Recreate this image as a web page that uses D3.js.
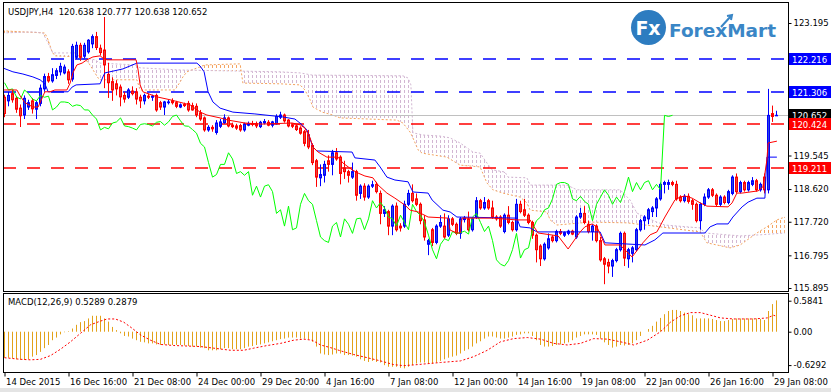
<!DOCTYPE html>
<html>
<head>
<meta charset="utf-8">
<script src="https://cdn.jsdelivr.net/npm/d3@7"></script>
<style>
  body { margin: 0; background: #fff; }
  svg text { font-family: "DejaVu Sans", sans-serif; font-size: 8.5px; fill: #000; }
</style>
</head>
<body>
<svg id="chart" width="831" height="392"></svg>
<script>
// Data -------------------------------------------------
// H4 bars from 14 Dec 2015 00:00, [open, high, low, close]
const ohlc = [
  [121.15,121.22,120.60,120.70],[121.05,121.30,120.90,121.20],[121.25,121.35,121.00,121.08],[121.12,121.18,120.72,120.82],[120.85,120.95,120.33,120.64],
  [120.66,121.20,120.55,121.12],[120.88,121.08,120.80,121.00],[121.05,121.13,120.70,120.83],[120.82,121.05,120.55,121.00],[120.98,121.50,120.90,121.40], // 0-9
  [121.38,121.80,121.30,121.72],[121.72,121.82,121.55,121.60],[121.60,121.95,121.55,121.77],[121.75,121.95,121.65,121.88],[121.85,122.10,121.75,122.00],
  [121.82,122.05,121.78,121.98],[121.85,121.92,121.52,121.63],[121.65,122.62,121.58,122.55],[122.25,122.68,122.20,122.58],[122.58,122.65,122.15,122.25], // 10-19
  [122.28,122.65,122.22,122.58],[122.40,122.75,122.35,122.72],[122.62,122.88,122.50,122.82],[122.82,122.95,122.45,122.52],[122.50,122.60,122.30,122.38],
  [122.45,123.36,121.40,122.04],[121.78,122.10,121.13,121.55],[121.58,121.70,121.05,121.35],[121.52,121.62,121.20,121.38],[121.43,121.50,120.90,121.16], // 20-29
  [121.20,121.30,121.00,121.10],[121.15,121.40,121.10,121.35],[121.32,121.45,121.20,121.25],[121.30,121.40,120.95,121.10],[121.15,121.22,120.85,121.05],
  [121.05,121.25,120.95,121.20],[121.18,121.25,121.10,121.15],[121.15,121.22,121.05,121.18],[121.20,121.25,120.75,120.80],[121.00,121.05,120.80,120.88], // 30-39
  [120.88,121.05,120.66,121.02],[121.00,121.08,120.95,121.02],[121.05,121.12,120.95,121.00],[121.00,121.05,120.85,120.90],[120.88,120.98,120.85,120.94],
  [120.95,121.00,120.88,120.92],[120.98,121.05,120.75,120.80],[120.92,121.00,120.78,120.80],[120.90,120.98,120.60,120.66],[120.72,120.80,120.50,120.55], // 40-49
  [120.58,120.62,120.20,120.25],[120.25,120.38,120.20,120.32],[120.32,120.38,120.20,120.28],[120.18,120.52,120.12,120.44],[120.35,120.55,120.30,120.47],
  [120.45,120.68,120.42,120.58],[120.58,120.62,120.32,120.36],[120.38,120.45,120.30,120.34],[120.36,120.42,120.25,120.30],[120.37,120.42,120.20,120.25], // 50-59
  [120.25,120.45,120.20,120.40],[120.38,120.48,120.35,120.42],[120.42,120.50,120.35,120.40],[120.42,120.48,120.30,120.36],[120.34,120.50,120.30,120.46],
  [120.44,120.55,120.40,120.48],[120.46,120.52,120.35,120.38],[120.38,120.50,120.32,120.47],[120.42,120.68,120.40,120.62],[120.60,120.75,120.55,120.66], // 60-69
  [120.66,120.70,120.45,120.50],[120.52,120.55,120.32,120.36],[120.38,120.42,120.30,120.35],[120.36,120.40,120.22,120.26],[120.30,120.35,120.12,120.16],
  [120.20,120.25,119.80,119.88],[120.12,120.25,119.72,119.78],[119.82,119.88,119.28,119.35],[119.40,119.45,118.68,118.95],[118.93,119.30,118.70,119.02], // 70-79
  [119.00,119.40,118.80,119.30],[119.40,119.55,119.10,119.30],[119.30,119.70,119.00,119.62],[119.62,119.75,119.40,119.45],[119.50,119.55,118.75,119.05],
  [119.20,119.40,118.90,119.10],[119.10,119.15,118.80,119.00],[118.95,119.35,118.90,119.10],[119.10,119.15,118.30,118.45],[118.50,118.75,118.35,118.70], // 80-89
  [118.70,118.78,118.30,118.40],[118.40,118.75,118.35,118.70],[118.70,118.85,118.65,118.74],[118.75,118.82,118.50,118.55],[118.50,118.58,117.65,117.95],
  [117.95,118.15,117.85,118.05],[118.00,118.05,117.35,117.60],[117.60,118.20,117.35,118.15],[118.15,118.25,117.45,117.50],[117.60,117.68,117.45,117.55], // 90-99
  [117.60,118.30,117.55,118.20],[118.20,118.60,118.15,118.50],[118.50,118.75,118.25,118.30],[118.35,118.50,118.15,118.20],[118.20,118.25,117.65,117.75],
  [117.77,117.90,117.20,117.30],[117.10,117.25,116.80,117.20],[117.50,117.55,117.05,117.15],[117.15,117.65,117.10,117.60],[117.60,117.90,117.55,117.70], // 100-109
  [117.60,117.95,117.25,117.30],[117.35,117.90,117.30,117.80],[117.80,117.85,117.60,117.65],[117.65,117.70,117.35,117.40],[117.40,117.85,117.25,117.80],
  [117.78,117.88,117.70,117.82],[117.80,118.00,117.45,117.50],[117.50,117.85,117.45,117.80],[117.85,118.40,117.80,118.30],[118.30,118.35,118.05,118.10], // 110-119
  [118.10,118.40,118.05,118.25],[118.30,118.35,118.05,118.10],[118.10,118.30,117.80,117.85],[117.85,117.90,117.75,117.80],[117.85,117.90,117.55,117.60],
  [117.45,117.95,117.40,117.90],[117.90,118.15,117.65,117.70],[117.70,117.75,117.45,117.50],[117.50,118.35,117.45,118.20],[118.20,118.30,117.95,118.00], // 120-129
  [118.05,118.35,117.85,117.90],[117.90,117.95,117.65,117.70],[117.70,117.75,117.25,117.35],[117.35,117.40,116.60,116.95],[117.05,117.10,116.50,116.70],
  [116.70,117.15,116.65,117.10],[117.00,117.40,116.95,117.25],[117.30,117.35,117.15,117.20],[117.20,117.50,117.15,117.45],[117.45,117.52,117.35,117.40], // 130-139
  [117.35,117.45,117.30,117.42],[117.40,117.50,117.35,117.46],[117.46,117.50,117.35,117.38],[117.30,117.90,117.25,117.85],[117.85,118.10,117.80,117.95],
  [117.95,118.15,117.65,117.70],[117.65,117.75,117.40,117.45],[117.45,117.65,117.20,117.60],[117.60,117.65,117.15,117.20],[117.20,117.30,116.62,116.67], // 140-149
  [116.70,116.75,116.00,116.55],[116.60,116.70,116.30,116.50],[116.50,116.70,116.20,116.65],[116.65,117.00,116.60,116.95],[116.95,117.45,116.90,117.40],
  [117.40,117.45,116.50,116.72],[116.70,117.00,116.45,116.95],[116.85,117.05,116.60,117.00],[116.95,117.55,116.90,117.50],[117.50,117.80,117.45,117.75], // 150-159
  [117.75,117.90,117.50,117.85],[117.80,118.10,117.65,118.05],[118.00,118.15,117.85,118.10],[118.10,118.40,117.85,118.35],[118.35,118.80,118.30,118.75],
  [118.75,118.85,118.50,118.80],[118.75,118.88,118.60,118.80],[118.80,118.85,118.70,118.75],[118.75,118.85,118.30,118.35],[118.40,118.45,118.25,118.30], // 160-169
  [118.30,118.48,118.25,118.42],[118.42,118.50,118.22,118.28],[118.30,118.35,118.05,118.20],[118.20,118.25,117.70,117.75],[117.75,118.25,117.50,118.20],
  [118.20,118.50,118.15,118.40],[118.40,118.65,118.35,118.60],[118.60,118.65,118.40,118.45],[118.45,118.50,118.15,118.20],[118.20,118.45,118.15,118.40], // 170-179
  [118.40,118.45,118.20,118.25],[118.25,118.60,118.20,118.55],[118.50,119.00,118.45,118.95],[118.95,119.05,118.50,118.55],[118.55,118.85,118.50,118.80],
  [118.80,118.85,118.55,118.60],[118.60,118.85,118.55,118.80],[118.75,118.95,118.70,118.85],[118.85,118.90,118.55,118.60],[118.60,118.80,118.55,118.75], // 180-189
  [118.95,119.05,118.50,118.60],[118.60,121.38,118.50,120.65],[120.70,120.92,120.47,120.62],[120.638,120.777,120.638,120.652]                            // 190-193
]

// Ichimoku lines, [bar, price]
const tenkan = [[-0.5,121.35],[3.1,121.35],[3.9,121.19],[5.1,121.00],[7.1,120.88],[8.4,120.88],[9.4,121.13],[10.1,121.30],[11.4,121.30],[12.6,121.35],
  [15.6,121.35],[16.4,121.54],[17.1,121.82],[18.1,122.04],[19.4,122.09],[20.6,122.18],[22.1,122.26],[23.9,122.29],[24.6,122.23],[25.6,122.18],
  [32.9,122.18],[33.4,121.90],[33.9,121.49],[34.6,121.30],[38.1,121.16],[41.4,121.08],[46.4,120.94],[48.9,120.74],[50.6,120.66],[53.9,120.58],
  [55.9,120.52],[60.1,120.44],[64.4,120.41],[71.9,120.44],[73.9,120.39],[75.1,120.30],[76.4,120.03],[77.1,119.78],[78.4,119.64],[80.6,119.50],
  [83.4,119.50],[84.6,119.34],[86.9,119.15],[88.4,119.06],[90.1,118.98],[92.1,118.93],[93.4,118.73],[95.6,118.51],[97.6,118.37],[100.1,118.18],
  [101.4,118.04],[103.4,117.99],[105.9,117.85],[110.9,117.82],[111.4,117.49],[113.1,117.41],[113.9,117.41],[114.4,117.82],[122.1,117.82],[128.1,117.77],
  [131.4,117.77],[132.1,117.63],[133.4,117.41],[138.4,117.33],[140.9,116.97],[143.9,117.44],[145.1,117.58],[146.9,117.66],[148.1,117.58],[150.1,117.08],
  [153.9,117.08],[156.9,116.75],[159.6,117.14],[161.4,117.36],[163.1,117.44],[165.1,117.85],[167.6,118.32],[168.9,118.40],[170.1,118.43],[171.9,118.37],
  [173.9,118.24],[175.6,118.15],[180.9,118.13],[181.9,118.24],[183.1,118.51],[184.4,118.51],[188.4,118.57],[189.6,118.68],[190.6,119.42],[190.9,119.89],
  [193.1,119.94]]

const kijun = [[-0.5,121.96],[2.1,121.85],[4.6,121.79],[7.1,121.71],[8.9,121.63],[10.1,121.52],[10.9,121.30],[15.9,121.30],[16.9,121.43],[17.9,121.49],
  [23.9,121.52],[24.6,121.71],[25.1,121.82],[29.6,121.93],[33.1,122.09],[48.1,122.09],[48.9,122.01],[49.9,121.85],[50.9,121.30],[52.1,121.02],
  [53.9,120.85],[57.1,120.74],[62.6,120.69],[69.4,120.61],[72.6,120.55],[74.4,120.39],[75.6,120.25],[77.1,119.78],[78.1,119.67],[86.9,119.64],
  [87.6,119.48],[92.6,119.42],[93.9,119.23],[95.6,118.95],[97.6,118.87],[100.9,118.82],[102.1,118.54],[105.9,118.51],[106.9,118.32],[109.6,118.04],
  [111.4,117.99],[113.1,117.85],[128.1,117.82],[128.9,117.58],[131.4,117.55],[133.1,117.44],[148.9,117.44],[150.1,117.14],[160.1,117.08],[162.6,117.22],
  [164.6,117.41],[175.1,117.41],[176.4,117.58],[178.1,117.66],[180.9,117.66],[182.1,117.85],[184.4,118.13],[185.9,118.26],[188.1,118.37],[190.1,118.37],
  [190.6,119.50],[193.1,119.50]]

const spanA = [[-0.5,122.98],[10.1,122.92],[10.9,122.73],[11.9,122.40],[12.6,122.29],[18.9,122.26],[20.9,122.12],[23.4,121.68],[23.9,121.63],[33.1,121.63],
  [33.9,121.35],[42.6,121.35],[43.9,121.57],[44.6,121.71],[45.6,121.85],[50.1,122.04],[58.9,122.07],[59.6,121.54],[68.9,121.52],[73.9,121.49],
  [75.1,121.35],[76.4,121.08],[77.1,120.88],[79.4,120.74],[82.1,120.66],[83.9,120.58],[98.1,120.52],[99.6,120.44],[101.4,120.19],[102.1,120.03],
  [103.4,119.70],[104.4,119.61],[110.6,119.50],[113.9,119.28],[118.9,119.23],[120.6,118.79],[122.1,118.60],[124.6,118.51],[128.9,118.40],[130.6,118.24],
  [131.4,118.04],[135.6,117.99],[136.4,117.77],[138.1,117.63],[146.4,117.71],[155.6,117.69],[163.9,117.58],[173.9,117.44],[175.6,117.14],[181.4,117.00],
  [183.9,117.08],[188.1,117.41],[190.6,117.58],[193.1,117.77],[195.1,117.85]]

const spanB = [[-0.5,122.92],[7.1,122.95],[9.6,122.92],[10.9,122.64],[12.1,122.37],[17.6,122.37],[18.9,122.26],[22.6,122.18],[23.9,122.09],[32.6,122.04],
  [33.9,121.96],[43.9,121.90],[58.9,121.87],[68.9,121.85],[73.9,121.82],[76.9,121.76],[99.6,121.74],[100.9,121.68],[101.6,121.49],[102.1,120.17],
  [104.6,120.11],[108.9,120.08],[111.4,120.03],[113.9,119.89],[117.1,119.64],[118.9,119.61],[120.6,119.34],[121.9,119.15],[125.1,119.09],[125.9,118.95],
  [130.6,118.93],[131.4,118.73],[140.6,118.73],[143.1,118.60],[153.9,118.60],[156.4,118.32],[158.1,117.96],[160.1,117.85],[163.1,117.71],[165.1,117.63],
  [173.9,117.55],[175.1,117.41],[183.9,117.33],[188.9,117.36],[195.1,117.41]]

// MACD(12,26,9) main per bar, signal as [bar, value]
const macdHist = [
  -0.49,-0.49,-0.50,-0.52,-0.53,-0.53,-0.52,-0.47,-0.44,-0.38,
  -0.31,-0.25,-0.16,-0.11,-0.05,-0.01,0.01,0.06,0.13,0.18,
  0.20,0.25,0.30,0.30,0.30,0.25,0.19,0.09,0.03,-0.03,
  -0.08,-0.09,-0.13,-0.16,-0.19,-0.20,-0.22,-0.22,-0.24,-0.25,
  -0.24,-0.25,-0.25,-0.25,-0.25,-0.26,-0.27,-0.28,-0.28,-0.30,
  -0.31,-0.35,-0.35,-0.35,-0.33,-0.31,-0.31,-0.33,-0.33,-0.33,
  -0.31,-0.28,-0.27,-0.25,-0.24,-0.22,-0.20,-0.18,-0.16,-0.14,
  -0.13,-0.11,-0.11,-0.11,-0.13,-0.13,-0.14,-0.19,-0.28,-0.41,
  -0.43,-0.44,-0.43,-0.41,-0.41,-0.44,-0.44,-0.45,-0.47,-0.52,
  -0.55,-0.57,-0.55,-0.57,-0.58,-0.63,-0.66,-0.66,-0.66,-0.68,
  -0.69,-0.66,-0.63,-0.60,-0.58,-0.58,-0.60,-0.60,-0.58,-0.55,
  -0.52,-0.49,-0.47,-0.45,-0.41,-0.36,-0.33,-0.28,-0.22,-0.18,
  -0.13,-0.09,-0.09,-0.11,-0.13,-0.13,-0.11,-0.09,-0.06,-0.05,
  -0.03,-0.03,-0.08,-0.16,-0.25,-0.28,-0.28,-0.27,-0.25,-0.24,
  -0.22,-0.20,-0.16,-0.11,-0.08,-0.05,-0.05,-0.05,-0.06,-0.13,
  -0.20,-0.25,-0.30,-0.28,-0.25,-0.26,-0.25,-0.22,-0.16,-0.08,
  0.00,0.05,0.11,0.19,0.26,0.33,0.39,0.41,0.41,0.39,
  0.36,0.33,0.31,0.25,0.25,0.25,0.25,0.24,0.22,0.20,
  0.20,0.22,0.24,0.25,0.25,0.25,0.25,0.25,0.25,0.24,
  0.22,0.39,0.52,0.59]
const macdSignal = [[0,-0.49],[4,-0.52],[6.5,-0.53],[9,-0.52],[11.5,-0.45],[14,-0.33],[16.5,-0.19],[19,-0.03],[21.5,0.13],[24,0.20],
  [25.7,0.24],[27.7,0.24],[29.8,0.18],[32,0.06],[34,-0.06],[36.5,-0.16],[39,-0.24],[42.3,-0.26],[45.7,-0.27],[49,-0.28],
  [52.3,-0.31],[56.5,-0.35],[59.8,-0.35],[62.3,-0.31],[65.7,-0.26],[69,-0.22],[72.3,-0.16],[74.8,-0.14],[76.9,-0.16],[79,-0.25],
  [81.5,-0.30],[84,-0.36],[87.3,-0.43],[90.7,-0.49],[94,-0.55],[97.3,-0.62],[99.8,-0.64],[103.2,-0.62],[109,-0.58],[114,-0.55],
  [117.3,-0.47],[120.7,-0.35],[124,-0.19],[127.3,-0.13],[130.7,-0.11],[134,-0.14],[137.3,-0.22],[140.7,-0.25],[144,-0.22],[147.3,-0.13],
  [150.7,-0.14],[154,-0.19],[157.3,-0.25],[160.7,-0.16],[164,0],[166.5,0.18],[169,0.30],[171.5,0.36],[174,0.36],[176.5,0.31],
  [179,0.26],[182.3,0.24],[187.3,0.24],[190.7,0.26],[192.3,0.31],[193,0.29]]

// levels and axis ticks
const blueLevels = [122.216, 121.306]
const redLevels = [120.424, 119.211]
const bidPrice = 120.652
const priceTicks = [123.195, 119.545, 118.620, 117.720, 116.795, 115.895]
const macdTicks = [0.5841, 0, -0.6292]
const macdTickLabels = ["0.5841", "0.00", "-0.6292"]
const xTickBars = [0, 16, 32, 48, 64, 80, 96, 112, 128, 144, 160, 176, 192]
const xLabels = ["14 Dec 2015", "16 Dec 16:00", "21 Dec 08:00", "24 Dec 00:00", "29 Dec 20:00", "4 Jan 16:00", "7 Jan 08:00",
  "12 Jan 00:00", "14 Jan 16:00", "19 Jan 08:00", "22 Jan 00:00", "26 Jan 16:00", "29 Jan 08:00"]
const title = "USDJPY,H4  120.638 120.777 120.638 120.652"
const macdTitle = "MACD(12,26,9) 0.5289 0.2879"

// Canvas setup -----------------------------------------
const PANE = {LEFT:3, RIGHT:788, TOP:2, BOTTOM:291}
const SUB = {TOP:293, BOTTOM:372}
const BULL = "#0000ff", BULL_FILL = "#2a48dc"
const BEAR = "#ff0000", BEAR_FILL = "#e0463e"

const svg = d3.select("#chart")
const defs = svg.append("defs")

// Scales ------------------------------------------------
const x = d3.scaleLinear().domain([0, 193]).range([4.5, 776.5])
const y = d3.scaleLinear().domain([115.895, 123.195]).range([288, 23])
const yM = d3.scaleLinear().domain([-0.6292, 0.5841]).range([365.1, 300.7])

defs.append("clipPath").attr("id", "clip-main").append("rect")
    .attr("x", PANE.LEFT).attr("y", PANE.TOP)
    .attr("width", PANE.RIGHT - PANE.LEFT).attr("height", PANE.BOTTOM - PANE.TOP)
defs.append("clipPath").attr("id", "clip-sub").append("rect")
    .attr("x", PANE.LEFT).attr("y", SUB.TOP)
    .attr("width", PANE.RIGHT - PANE.LEFT).attr("height", SUB.BOTTOM - SUB.TOP)

// vertical dashed hatch, one line per bar
function hatch(id, color){
    const p = defs.append("pattern").attr("id", id)
        .attr("patternUnits", "userSpaceOnUse")
        .attr("x", 4).attr("y", 0).attr("width", 4).attr("height", 5)
    p.append("rect").attr("width", 1).attr("height", 3).attr("fill", color)
}
hatch("hatch-a", "#f4a460")
hatch("hatch-b", "#d2b6d2")

const below = d3.area().x(d => x(d[0])).y0(PANE.BOTTOM).y1(d => y(d[1]))
const above = d3.area().x(d => x(d[0])).y0(PANE.TOP).y1(d => y(d[1]))
defs.append("clipPath").attr("id", "above-a").append("path").attr("d", above(spanA))
defs.append("clipPath").attr("id", "above-b").append("path").attr("d", above(spanB))

// Main pane ----------------------------------------------
const gMain = svg.append("g").attr("clip-path", "url(#clip-main)")

// cloud: orange where span A is on top, thistle where span B is
gMain.append("g").attr("clip-path", "url(#above-b)")
  .append("path").attr("d", below(spanA)).attr("fill", "url(#hatch-a)")
gMain.append("g").attr("clip-path", "url(#above-a)")
  .append("path").attr("d", below(spanB)).attr("fill", "url(#hatch-b)")

const line = d3.line().x(d => x(d[0])).y(d => y(d[1]))

gMain.append("path").attr("d", line(spanA))
    .attr("fill", "none").attr("stroke", "#f4a460").attr("stroke-dasharray", "2,2")
gMain.append("path").attr("d", line(spanB))
    .attr("fill", "none").attr("stroke", "#d2b6d2").attr("stroke-dasharray", "2,2")

// bid line
gMain.append("line")
    .attr("x1", PANE.LEFT).attr("x2", PANE.RIGHT)
    .attr("y1", Math.round(y(bidPrice)) + 0.5).attr("y2", Math.round(y(bidPrice)) + 0.5)
    .attr("stroke", "#c0c0c0")

// dashed levels
const levels = blueLevels.map(p => ({p, c: BULL})).concat(redLevels.map(p => ({p, c: BEAR})))
gMain.selectAll(".level").data(levels).join("line")
    .attr("class", "level")
    .attr("x1", PANE.LEFT).attr("x2", PANE.RIGHT)
    .attr("y1", d => Math.round(y(d.p))).attr("y2", d => Math.round(y(d.p)))
    .attr("stroke", d => d.c).attr("stroke-width", 1.6)
    .attr("stroke-dasharray", "13,11")

// candles
const isBull = d => d[3] >= d[0]
const candles = gMain.selectAll(".candle").data(ohlc).join("g").attr("class", "candle")
candles.append("line")
    .attr("x1", (d, i) => x(i)).attr("x2", (d, i) => x(i))
    .attr("y1", d => y(d[1])).attr("y2", d => y(d[2]))
    .attr("stroke", d => isBull(d) ? BULL : BEAR)
candles.append("rect")
    .attr("x", (d, i) => x(i) - 1).attr("width", 2)
    .attr("y", d => y(Math.max(d[0], d[3])))
    .attr("height", d => Math.max(Math.abs(y(d[0]) - y(d[3])), 0.5))
    .attr("fill", d => isBull(d) ? BULL_FILL : BEAR_FILL)
    .attr("stroke", d => isBull(d) ? BULL : BEAR)

// chikou = close shifted 26 bars back
const chikou = ohlc.slice(26).map((d, k) => [k, d[3]])
gMain.append("path").attr("d", line(chikou))
    .attr("fill", "none").attr("stroke", "#00ff00")
gMain.append("path").attr("d", line(kijun))
    .attr("fill", "none").attr("stroke", BULL)
gMain.append("path").attr("d", line(tenkan))
    .attr("fill", "none").attr("stroke", BEAR)

// MACD pane ----------------------------------------------
const gSub = svg.append("g").attr("clip-path", "url(#clip-sub)")
gSub.selectAll(".hist").data(macdHist).join("rect")
    .attr("class", "hist")
    .attr("x", (d, i) => x(i) - 0.5).attr("width", 1)
    .attr("y", d => yM(Math.max(d, 0)))
    .attr("height", d => Math.abs(yM(d) - yM(0)))
    .attr("fill", "#e3a21a")
gSub.append("path")
    .attr("d", d3.line().x(d => x(d[0])).y(d => yM(d[1]))(macdSignal))
    .attr("fill", "none").attr("stroke", BEAR).attr("stroke-dasharray", "2,2")

// Frames -------------------------------------------------
svg.append("rect").attr("x", PANE.LEFT + 0.5).attr("y", PANE.TOP + 0.5)
    .attr("width", PANE.RIGHT - PANE.LEFT).attr("height", PANE.BOTTOM - PANE.TOP)
    .attr("fill", "none").attr("stroke", "#000")
svg.append("rect").attr("x", PANE.LEFT + 0.5).attr("y", SUB.TOP + 0.5)
    .attr("width", PANE.RIGHT - PANE.LEFT).attr("height", SUB.BOTTOM - SUB.TOP)
    .attr("fill", "none").attr("stroke", "#000")
svg.append("rect").attr("x", 0).attr("y", 388).attr("width", 831).attr("height", 4).attr("fill", "#e4e4e4")

// Axes ---------------------------------------------------
const yAxis = d3.axisRight(y).tickValues(priceTicks).tickFormat(d3.format(".3f")).tickSize(3).tickPadding(2)
const gy = svg.append("g").attr("transform", `translate(${PANE.RIGHT + 0.5},0)`).call(yAxis)
gy.select(".domain").remove()

const mAxis = d3.axisRight(yM).tickValues(macdTicks).tickFormat((d, k) => macdTickLabels[k]).tickSize(3).tickPadding(2)
const gm = svg.append("g").attr("transform", `translate(${PANE.RIGHT + 0.5},0)`).call(mAxis)
gm.select(".domain").remove()

const xAxis = d3.axisBottom(x).tickValues(xTickBars).tickFormat((d, k) => xLabels[k]).tickSize(4).tickPadding(2)
const gx = svg.append("g").attr("transform", `translate(0,${SUB.BOTTOM + 0.5})`).call(xAxis)
gx.select(".domain").remove()
gx.selectAll("text").attr("text-anchor", "start").attr("x", 1)

// price tags on the right
function tag(price, bg){
    const yc = Math.round(y(price))
    svg.append("rect").attr("x", 789).attr("y", yc - 6).attr("width", 42).attr("height", 12).attr("fill", bg)
    svg.append("text").attr("x", 792).attr("y", yc + 3.5).style("fill", "#fff").text(price.toFixed(3))
}
blueLevels.forEach(p => tag(p, BULL))
tag(bidPrice, "#000")
redLevels.forEach(p => tag(p, BEAR))

// Labels -------------------------------------------------
svg.append("text").attr("x", 8).attr("y", 15).style("white-space", "pre").text(title)
svg.append("text").attr("x", 8).attr("y", 305).text(macdTitle)

// logo
const logo = svg.append("g")
logo.append("circle").attr("cx", 648.5).attr("cy", 27.5).attr("r", 17.5).attr("fill", "#2d7cc0")
logo.append("text").attr("x", 648).attr("y", 34.5).attr("text-anchor", "middle")
    .style("font-size", "19px").style("font-weight", "bold").style("fill", "#fff").text("Fx")
logo.append("text").attr("x", 669).attr("y", 37)
    .style("font-size", "18.5px").style("font-weight", "bold").style("fill", "#3a86c6").text("ForexMart")
logo.append("path").attr("d", "M721,27 L731,16 M727,16 L732,15 L731,20")
    .attr("fill", "none").attr("stroke", "#3a86c6").attr("stroke-width", 2)
</script>
</body>
</html>
